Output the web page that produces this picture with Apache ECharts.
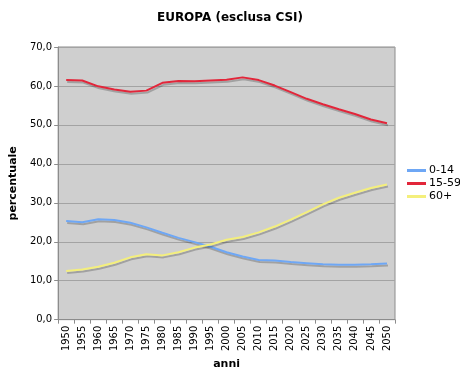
<!DOCTYPE html>
<html lang="it">
<head>
    <meta charset="utf-8" />
    <script src="https://cdn.jsdelivr.net/npm/echarts@6/dist/echarts.min.js"></script>
    <style>
        body { margin: 0; background: #fff; }
        .box { width: 460px; height: 375px; }
    </style>
</head>
<body>
    <div class="box"></div>
    <script>
// anni (categorie)
var anni = ['1950','1955','1960','1965','1970','1975','1980','1985','1990','1995','2000',
            '2005','2010','2015','2020','2025','2030','2035','2040','2045','2050'];

// percentuali per fascia d'età
var eta0_14  = [25.3, 25.0, 25.8, 25.6, 24.9, 23.7, 22.3, 21.0, 19.9, 18.7, 17.3,
                16.2, 15.3, 15.2, 14.8, 14.5, 14.2, 14.1, 14.1, 14.2, 14.4];
var eta15_59 = [61.5, 61.4, 59.9, 59.1, 58.5, 58.8, 60.8, 61.3, 61.2, 61.4, 61.6,
                62.2, 61.5, 60.1, 58.4, 56.7, 55.3, 54.0, 52.8, 51.4, 50.4];
var eta60    = [12.5, 12.9, 13.6, 14.6, 16.0, 16.8, 16.5, 17.3, 18.5, 19.3, 20.5,
                21.2, 22.4, 23.9, 25.7, 27.6, 29.6, 31.3, 32.6, 33.8, 34.7];

var yTicks = [0, 10, 20, 30, 40, 50, 60, 70];

var myChart = echarts.init(document.querySelector('.box'));

// ombra grigia sotto le linee, come nell'originale
var ombra = {
    shadowColor: 'rgba(0,0,0,0.22)',
    shadowBlur: 0,
    shadowOffsetX: 1,
    shadowOffsetY: 2
};

function serie(nome, dati, colore) {
    return {
        name: nome,
        type: 'line',
        data: dati,
        symbol: 'none',
        smooth: false,
        lineStyle: Object.assign({ color: colore, width: 2 }, ombra),
        itemStyle: { color: colore }
    };
}

var option = {
    animation: false,
    backgroundColor: '#fff',
    title: {
        text: 'EUROPA (esclusa CSI)',
        left: 'center',
        top: 7,
        textStyle: { fontFamily: 'DejaVu Sans', fontSize: 12, fontWeight: 'bold', color: '#000' }
    },
    legend: {
        orient: 'vertical',
        left: 407,
        top: 165,
        padding: 0,
        itemWidth: 19,
        itemHeight: 3,
        itemGap: 2,
        icon: 'rect',
        textStyle: { fontFamily: 'DejaVu Sans', fontSize: 11, color: '#000', padding: [0, 0, 0, -2] },
        data: ['0-14', '15-59', '60+']
    },
    grid: {
        left: 45,
        top: 47,
        right: 65,
        bottom: 51,
        show: true,
        backgroundColor: '#cfcfcf',
        borderColor: '#8c8c8c',
        borderWidth: 1
    },
    xAxis: {
        type: 'category',
        data: anni,
        boundaryGap: true,
        name: 'anni',
        nameLocation: 'middle',
        nameGap: 38,
        nameTextStyle: { fontFamily: 'DejaVu Sans', fontSize: 11, fontWeight: 'bold', color: '#000' },
        axisLine: { lineStyle: { color: '#8c8c8c' } },
        axisTick: { show: true, length: 4, lineStyle: { color: '#8c8c8c' } },
        axisLabel: {
            interval: 0,
            rotate: 90,
            margin: 6,
            fontFamily: 'DejaVu Sans',
            fontSize: 10,
            color: '#000'
        },
        splitLine: { show: false }
    },
    yAxis: {
        type: 'value',
        min: yTicks[0],
        max: yTicks[yTicks.length - 1],
        interval: 10,
        name: 'percentuale',
        nameLocation: 'middle',
        nameGap: 34,
        nameTextStyle: { fontFamily: 'DejaVu Sans', fontSize: 11, fontWeight: 'bold', color: '#000' },
        axisLine: { show: true, lineStyle: { color: '#8c8c8c' } },
        axisTick: { show: true, length: 4, lineStyle: { color: '#8c8c8c' } },
        axisLabel: {
            margin: 6,
            fontFamily: 'DejaVu Sans',
            fontSize: 10,
            color: '#000',
            formatter: function (v) { return v.toFixed(1).replace('.', ','); }
        },
        splitLine: { show: true, lineStyle: { color: '#a3a3a3', width: 1 } }
    },
    series: [
        serie('0-14', eta0_14, '#6ea7f5'),
        serie('15-59', eta15_59, '#e2263a'),
        serie('60+', eta60, '#f4ef7c')
    ]
};

myChart.setOption(option);
    </script>
</body>
</html>
